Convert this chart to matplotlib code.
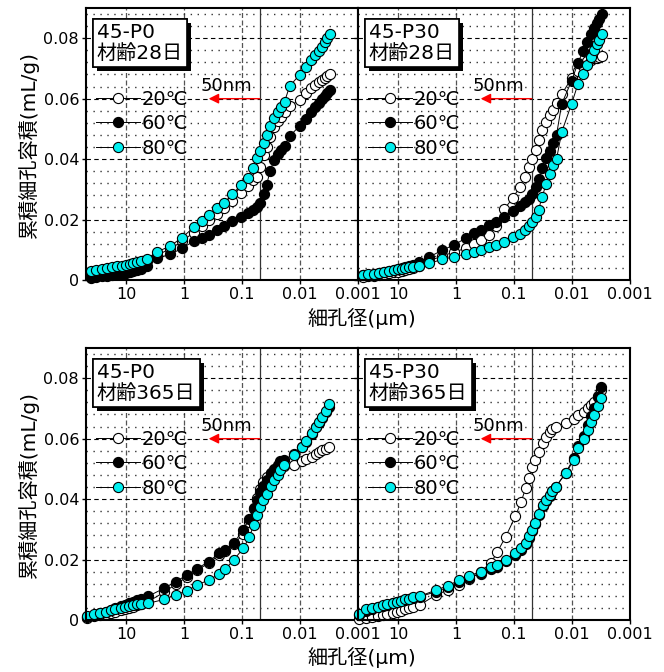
import numpy as np
import matplotlib.pyplot as plt
from matplotlib.ticker import MultipleLocator, NullLocator
import matplotlib.patheffects as pe

plt.rcParams['font.family'] = ['DejaVu Sans', 'Noto Sans CJK JP']

# pore diameter (um) read per row
d_top = [40.7, 33.1, 26.9, 21.9, 17.8, 14.5, 12.0, 10.2, 8.71, 7.59, 6.46, 5.50, 4.47,
         3.02, 1.74, 1.10, 0.692, 0.501, 0.380, 0.275, 0.204, 0.148, 0.107, 0.0794,
         0.0661, 0.0562, 0.0490, 0.0427, 0.0380, 0.0331, 0.0282, 0.0245, 0.0214, 0.0186,
         0.0151, 0.0102, 0.00794, 0.00646, 0.00550, 0.00479, 0.00417, 0.00372, 0.00339, 0.00302]
d_bot = [49.0, 36.3, 28.8, 22.9, 18.6, 15.5, 12.6, 10.7, 9.12, 7.59, 6.46, 5.50, 4.27,
         2.24, 1.41, 0.891, 0.603, 0.380, 0.251, 0.195, 0.141, 0.0955, 0.0759, 0.0631,
         0.0550, 0.0490, 0.0437, 0.0380, 0.0324, 0.0282, 0.0245, 0.0219, 0.0191, 0.0129,
         0.00933, 0.00776, 0.00631, 0.00537, 0.00468, 0.00417, 0.00363, 0.00316]

# cumulative pore volume (mL/g)
p0_28_20 = [0.0022, 0.0025, 0.0028, 0.0031, 0.0034, 0.0037, 0.0040, 0.0043, 0.0046, 0.0049, 0.0052, 0.0056, 0.0062,
            0.0082, 0.0103, 0.0128, 0.0157, 0.0180, 0.0198, 0.0218, 0.0238, 0.0262, 0.0287, 0.0312,
            0.0330, 0.0342, 0.0375, 0.0414, 0.0440, 0.0474, 0.0505, 0.0525, 0.0540, 0.0555,
            0.0575, 0.0596, 0.0618, 0.0634, 0.0645, 0.0655, 0.0663, 0.0670, 0.0676, 0.0680]
p0_28_60 = [0.0008, 0.0010, 0.0012, 0.0014, 0.0016, 0.0019, 0.0021, 0.0024, 0.0027, 0.0030, 0.0033, 0.0037, 0.0045,
            0.0072, 0.0085, 0.0105, 0.0128, 0.0138, 0.0150, 0.0166, 0.0178, 0.0195, 0.0210, 0.0223,
            0.0232, 0.0243, 0.0256, 0.0283, 0.0314, 0.0360, 0.0397, 0.0416, 0.0430, 0.0445,
            0.0476, 0.0510, 0.0534, 0.0556, 0.0572, 0.0585, 0.0598, 0.0610, 0.0619, 0.0629]
p0_28_80 = [0.0031, 0.0033, 0.0036, 0.0039, 0.0042, 0.0045, 0.0047, 0.0051, 0.0053, 0.0056, 0.0060, 0.0064, 0.0070,
            0.0092, 0.0113, 0.0140, 0.0174, 0.0196, 0.0215, 0.0239, 0.0255, 0.0283, 0.0313, 0.0339,
            0.0370, 0.0403, 0.0428, 0.0454, 0.0480, 0.0510, 0.0535, 0.0557, 0.0572, 0.0590,
            0.0642, 0.0679, 0.0706, 0.0728, 0.0745, 0.0759, 0.0772, 0.0786, 0.0800, 0.0814]

p30_28_20 = [0.0010, 0.0012, 0.0014, 0.0016, 0.0019, 0.0022, 0.0025, 0.0028, 0.0031, 0.0034, 0.0037, 0.0040, 0.0045,
             0.0062, 0.0080, 0.0092, 0.0105, 0.0120, 0.0132, 0.0150, 0.0180, 0.0235, 0.0270, 0.0309,
             0.0340, 0.0375, 0.0400, 0.0430, 0.0463, 0.0497, 0.0522, 0.0545, 0.0563, 0.0585,
             0.0615, 0.0668, 0.0690, 0.0708, 0.0723, 0.0729, 0.0733, 0.0736, 0.0739, 0.0741]
p30_28_60 = [0.0015, 0.0018, 0.0021, 0.0024, 0.0028, 0.0031, 0.0034, 0.0037, 0.0040, 0.0043, 0.0046, 0.0050, 0.0058,
             0.0075, 0.0099, 0.0116, 0.0138, 0.0155, 0.0166, 0.0182, 0.0193, 0.0210, 0.0227, 0.0245,
             0.0258, 0.0267, 0.0283, 0.0308, 0.0335, 0.0372, 0.0405, 0.0428, 0.0452, 0.0480,
             0.0583, 0.0659, 0.0718, 0.0758, 0.0787, 0.0815, 0.0833, 0.0849, 0.0864, 0.0879]
p30_28_80 = [0.0017, 0.0019, 0.0021, 0.0024, 0.0027, 0.0031, 0.0033, 0.0035, 0.0037, 0.0041, 0.0043, 0.0044, 0.0046,
             0.0055, 0.0068, 0.0077, 0.0086, 0.0094, 0.0099, 0.0108, 0.0116, 0.0127, 0.0141, 0.0153,
             0.0164, 0.0178, 0.0191, 0.0210, 0.0232, 0.0274, 0.0316, 0.0350, 0.0380, 0.0400,
             0.0490, 0.0583, 0.0648, 0.0681, 0.0710, 0.0737, 0.0762, 0.0781, 0.0795, 0.0815]

p0_365_20 = [0.0008, 0.0012, 0.0016, 0.0020, 0.0024, 0.0028, 0.0033, 0.0036, 0.0040, 0.0044, 0.0048, 0.0052, 0.0060,
             0.0092, 0.0118, 0.0143, 0.0165, 0.0188, 0.0215, 0.0228, 0.0250, 0.0285, 0.0325, 0.0368,
             0.0405, 0.0435, 0.0458, 0.0472, 0.0485, 0.0495, 0.0502, 0.0508, 0.0511, 0.0514,
             0.0525, 0.0532, 0.0540, 0.0548, 0.0555, 0.0561, 0.0567, 0.0573]
p0_365_60 = [0.0010, 0.0016, 0.0022, 0.0028, 0.0034, 0.0040, 0.0046, 0.0051, 0.0056, 0.0061, 0.0066, 0.0070, 0.0078,
             0.0105, 0.0127, 0.0149, 0.0170, 0.0193, 0.0221, 0.0232, 0.0255, 0.0298, 0.0335, 0.0370,
             0.0398, 0.0425, 0.0445, 0.0463, 0.0485, 0.0500, 0.0513, 0.0525, 0.0530, 0.0548,
             0.0572, 0.0590, 0.0617, 0.0637, 0.0653, 0.0670, 0.0688, 0.0706]
p0_365_80 = [0.0013, 0.0019, 0.0022, 0.0028, 0.0033, 0.0036, 0.0041, 0.0044, 0.0046, 0.0050, 0.0052, 0.0053, 0.0055,
             0.0068, 0.0083, 0.0097, 0.0116, 0.0132, 0.0152, 0.0168, 0.0199, 0.0237, 0.0274, 0.0314,
             0.0348, 0.0375, 0.0397, 0.0417, 0.0444, 0.0463, 0.0480, 0.0497, 0.0513, 0.0546,
             0.0572, 0.0593, 0.0620, 0.0640, 0.0656, 0.0673, 0.0693, 0.0714]

p30_365_20 = [0.0003, 0.0006, 0.0009, 0.0012, 0.0015, 0.0019, 0.0023, 0.0027, 0.0031, 0.0035, 0.0039, 0.0043, 0.0050,
              0.0083, 0.0099, 0.0116, 0.0135, 0.0160, 0.0190, 0.0226, 0.0275, 0.0343, 0.0392, 0.0437,
              0.0471, 0.0505, 0.0530, 0.0557, 0.0585, 0.0607, 0.0622, 0.0632, 0.0638, 0.0653,
              0.0666, 0.0677, 0.0689, 0.0700, 0.0710, 0.0722, 0.0740, 0.0760]
p30_365_60 = [0.0015, 0.0030, 0.0036, 0.0042, 0.0047, 0.0051, 0.0055, 0.0059, 0.0063, 0.0067, 0.0070, 0.0073, 0.0077,
              0.0094, 0.0108, 0.0127, 0.0140, 0.0153, 0.0168, 0.0176, 0.0194, 0.0215, 0.0232, 0.0250,
              0.0272, 0.0293, 0.0316, 0.0346, 0.0377, 0.0394, 0.0411, 0.0426, 0.0440, 0.0488,
              0.0535, 0.0575, 0.0610, 0.0645, 0.0675, 0.0703, 0.0738, 0.0772]
p30_365_80 = [0.0020, 0.0035, 0.0039, 0.0044, 0.0049, 0.0052, 0.0056, 0.0061, 0.0064, 0.0068, 0.0071, 0.0075, 0.0079,
              0.0099, 0.0113, 0.0132, 0.0146, 0.0160, 0.0175, 0.0182, 0.0200, 0.0221, 0.0238, 0.0256,
              0.0277, 0.0298, 0.0320, 0.0350, 0.0380, 0.0396, 0.0413, 0.0428, 0.0441, 0.0485,
              0.0530, 0.0568, 0.0600, 0.0630, 0.0655, 0.0678, 0.0708, 0.0735]

temps = ['20℃', '60℃', '80℃']
faces = ['white', 'black', '#00EFEF']
panels = [
    ('45-P0\n材齢28日', d_top, [p0_28_20, p0_28_60, p0_28_80]),
    ('45-P30\n材齢28日', d_top, [p30_28_20, p30_28_60, p30_28_80]),
    ('45-P0\n材齢365日', d_bot, [p0_365_20, p0_365_60, p0_365_80]),
    ('45-P30\n材齢365日', d_bot, [p30_365_20, p30_365_60, p30_365_80]),
]
xticks = [10, 1, 0.1, 0.01, 0.001]
xticklabels = ['10', '1', '0.1', '0.01', '0.001']

fig = plt.figure(figsize=(6.64, 6.72), dpi=100)
W, H = 664, 672
rects = [(86, 8), (358, 8), (86, 348), (358, 348)]

for i, ((name, d, series), (x0, y0)) in enumerate(zip(panels, rects)):
    ax = fig.add_axes([x0 / W, 1 - (y0 + 272) / H, 272 / W, 272 / H])
    for temp, fc, vals in zip(temps, faces, series):
        ax.plot(d, vals, '-o', color='black', lw=0.7, ms=7.3, mfc=fc, mec='black',
                mew=0.8, label=temp, clip_on=False)
    ax.set_xscale('log')
    ax.set_xlim(50, 0.001)
    ax.set_ylim(0, 0.09)
    ax.xaxis.set_minor_locator(NullLocator())
    ax.set_yticks([0, 0.02, 0.04, 0.06, 0.08])
    ax.yaxis.set_minor_locator(MultipleLocator(0.004))
    ax.set_xticks(xticks, xticklabels)
    if i % 2 == 0:
        ax.set_yticklabels(['0', '0.02', '0.04', '0.06', '0.08'])
        ax.set_ylabel('累積細孔容積(mL/g)', fontsize=14.5, labelpad=3)
    else:
        ax.tick_params(axis='y', labelleft=False, length=0)
    ax.tick_params(axis='both', which='major', direction='out', length=3, width=1,
                   labelsize=11.5, pad=2)
    ax.tick_params(axis='y', which='minor', length=0)
    ax.grid(True, which='major', axis='y', color='black', lw=0.8, ls=(0, (4, 3)))
    ax.grid(True, which='major', axis='x', color='#555555', lw=0.9, ls=(0, (4, 2)))
    ax.grid(True, which='minor', axis='y', color='#333333', lw=1.0, ls=(0, (1, 4)))
    ax.set_axisbelow(True)
    for s in ax.spines.values():
        s.set_linewidth(1.5)

    ax.axvline(0.05, color='#333333', lw=0.9, zorder=1.5)
    ax.annotate('', xy=(0.38, 0.06), xytext=(0.05, 0.06),
                arrowprops=dict(arrowstyle='-|>', color='red', lw=1.0,
                                mutation_scale=15, shrinkA=0, shrinkB=0))
    ax.text(0.19, 0.0612, '50nm', ha='center', va='bottom', fontsize=13)

    t = ax.text(0.04, 0.945, name, transform=ax.transAxes, ha='left', va='top',
                fontsize=14.5, linespacing=1.12, zorder=5,
                bbox=dict(boxstyle='square,pad=0.2', fc='white', ec='black', lw=1.2))
    t.get_bbox_patch().set_path_effects([
        pe.withSimplePatchShadow(offset=(3, -3), shadow_rgbFace='black', alpha=1.0),
        pe.Normal()])

    ax.legend(loc='center left', bbox_to_anchor=(0.035, 0.575), frameon=False,
              fontsize=14, handlelength=2.3, handletextpad=0.05, labelspacing=0.28,
              borderpad=0, borderaxespad=0, numpoints=1)

fig.text(362 / W, 1 - 318 / H, '細孔径(μm)', ha='center', va='center', fontsize=14.5)
fig.text(362 / W, 1 - 657 / H, '細孔径(μm)', ha='center', va='center', fontsize=14.5)

fig.savefig('out.png', dpi=100)
